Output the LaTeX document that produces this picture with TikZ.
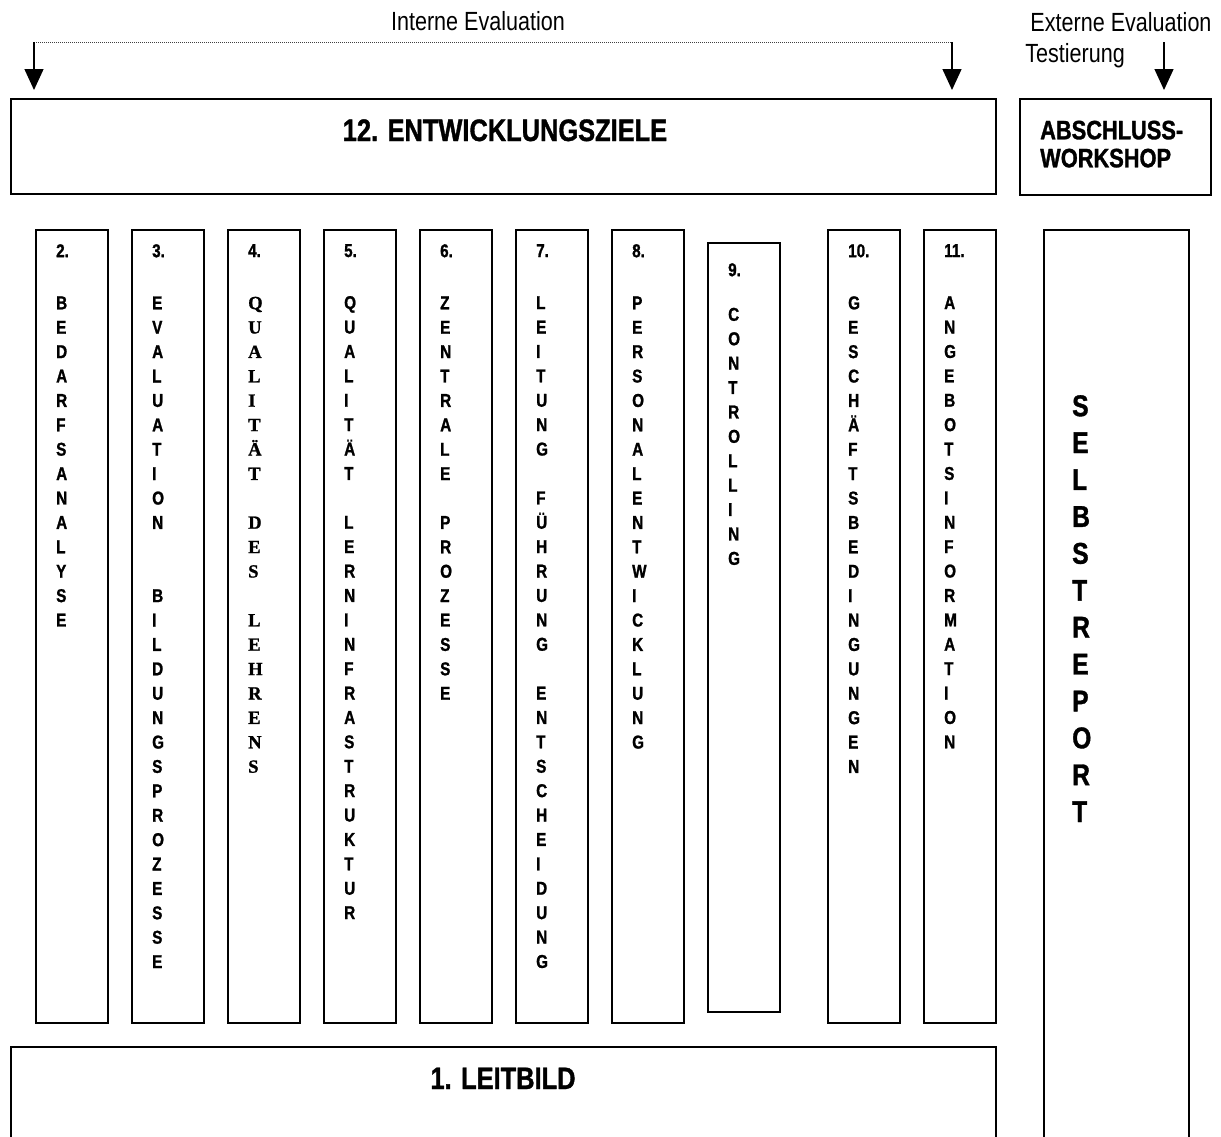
\documentclass[tikz,border=0pt]{standalone}
\usepackage{fontspec}
\setmainfont{Liberation Sans}[FakeStretch=0.82, BoldFeatures={FakeBold=1.2}]
\newfontfamily\serifbold{Liberation Serif}[BoldFeatures={FakeBold=1}]
\usetikzlibrary{arrows.meta}
\tikzset{
  frame/.style={draw, line width=1.5pt, inner sep=0pt, anchor=north west},
  colbox/.style={frame, minimum width=72pt, minimum height=793pt},
  coltext/.style={anchor=north west, inner sep=0pt, align=left,
    font={\bfseries\fontsize{18.6}{24.4}\selectfont}},
  headtext/.style={anchor=base, inner sep=0pt, font={\fontsize{26.3}{30}\selectfont}},
  bigtitle/.style={anchor=base, inner sep=0pt, font={\bfseries\fontsize{31}{36}\selectfont}},
  evalarrow/.style={line width=1.4pt, -{Triangle[width=19pt,length=21pt]}},
  dotline/.style={line width=0.8pt, dash pattern=on 1pt off 1pt, black!75}
}
\begin{document}
\begin{tikzpicture}[x=1pt,y=-1pt]
\useasboundingbox (0,0) rectangle (1221,1136);
\clip (0,0) rectangle (1221,1136);
\fill[white] (0,0) rectangle (1221,1136);

% header texts
\node[headtext] (intern) at (478,30) {Interne Evaluation};
\node[headtext] (extern) at (1121,31) {Externe Evaluation};
\node[headtext] (testier) at (1075,62) {Testierung};

% arrows
\coordinate (dl) at (34,42);
\coordinate (dr) at (952,42);
\coordinate (tl) at (34,90);
\coordinate (tr) at (952,90);
\coordinate (el) at (1164,42);
\coordinate (et) at (1164,90);
\draw[dotline] (dl) -- (dr);
\draw[evalarrow] (dl) -- (tl);
\draw[evalarrow] (dr) -- (tr);
\draw[evalarrow] (el) -- (et);

% top boxes
\node[frame, minimum width=985pt, minimum height=95pt] (ziele) at (10,98) {};
\node[bigtitle] (zieletext) at (505,141) {12. ENTWICKLUNGSZIELE};
\node[frame, minimum width=191pt, minimum height=96pt] (abschluss) at (1019,98) {};
\node[anchor=north west, inner sep=0pt, align=left,
  font={\bfseries\fontsize{26.6}{28}\selectfont}] (abschlusstext) at (1040,120.5) {ABSCHLUSS-\\WORKSHOP};

% columns
\node[colbox] (c2) at (35,229) {};
\node[colbox] (c3) at (131,229) {};
\node[colbox] (c4) at (227,229) {};
\node[colbox] (c5) at (323,229) {};
\node[colbox] (c6) at (419,229) {};
\node[colbox] (c7) at (515,229) {};
\node[colbox] (c8) at (611,229) {};
\node[colbox, minimum height=769pt] (c9) at (707,242) {};
\node[colbox] (c10) at (827,229) {};
\node[colbox] (c11) at (923,229) {};

\node[coltext] (t2) at (56,244) {2.\\[27.7pt]B\\E\\D\\A\\R\\F\\S\\A\\N\\A\\L\\Y\\S\\E};
\node[coltext] (t3) at (152,244) {3.\\[27.7pt]E\\V\\A\\L\\U\\A\\T\\I\\O\\N\\[48.8pt]B\\I\\L\\D\\U\\N\\G\\S\\P\\R\\O\\Z\\E\\S\\S\\E};
\node[coltext] (t4) at (248,244) {4.\\[27.7pt]{\serifbold Q}\\{\serifbold U}\\{\serifbold A}\\{\serifbold L}\\{\serifbold I}\\{\serifbold T}\\{\serifbold Ä}\\{\serifbold T}\\[24.4pt]{\serifbold D}\\{\serifbold E}\\{\serifbold S}\\[24.4pt]{\serifbold L}\\{\serifbold E}\\{\serifbold H}\\{\serifbold R}\\{\serifbold E}\\{\serifbold N}\\{\serifbold S}};
\node[coltext] (t5) at (344,244) {5.\\[27.7pt]Q\\U\\A\\L\\I\\T\\Ä\\T\\[24.4pt]L\\E\\R\\N\\I\\N\\F\\R\\A\\S\\T\\R\\U\\K\\T\\U\\R};
\node[coltext] (t6) at (440,244) {6.\\[27.7pt]Z\\E\\N\\T\\R\\A\\L\\E\\[24.4pt]P\\R\\O\\Z\\E\\S\\S\\E};
\node[coltext] (t7) at (536,244) {7.\\[27.7pt]L\\E\\I\\T\\U\\N\\G\\[24.4pt]F\\Ü\\H\\R\\U\\N\\G\\[24.4pt]E\\N\\T\\S\\C\\H\\E\\I\\D\\U\\N\\G};
\node[coltext] (t8) at (632,244) {8.\\[27.7pt]P\\E\\R\\S\\O\\N\\A\\L\\E\\N\\T\\W\\I\\C\\K\\L\\U\\N\\G};
\node[coltext] (t9) at (728,263) {9.\\[20.2pt]C\\O\\N\\T\\R\\O\\L\\L\\I\\N\\G};
\node[coltext] (t10) at (848,244) {10.\\[27.7pt]G\\E\\S\\C\\H\\Ä\\F\\T\\S\\B\\E\\D\\I\\N\\G\\U\\N\\G\\E\\N};
\node[coltext] (t11) at (944,244) {11.\\[27.7pt]A\\N\\G\\E\\B\\O\\T\\S\\I\\N\\F\\O\\R\\M\\A\\T\\I\\O\\N};

% selbstreport
\node[frame, minimum width=145pt, minimum height=950pt] (selbst) at (1043,229) {};
\node[anchor=north west, inner sep=0pt, align=left,
  font={\bfseries\fontsize{30}{36.9}\selectfont}] (selbsttext) at (1072,395) {S\\E\\L\\B\\S\\T\\R\\E\\P\\O\\R\\T};

% leitbild
\node[frame, minimum width=985pt, minimum height=150pt] (leitbild) at (10,1046) {};
\node[bigtitle] (leitbildtext) at (503,1089) {1. LEITBILD};
\end{tikzpicture}
\end{document}
